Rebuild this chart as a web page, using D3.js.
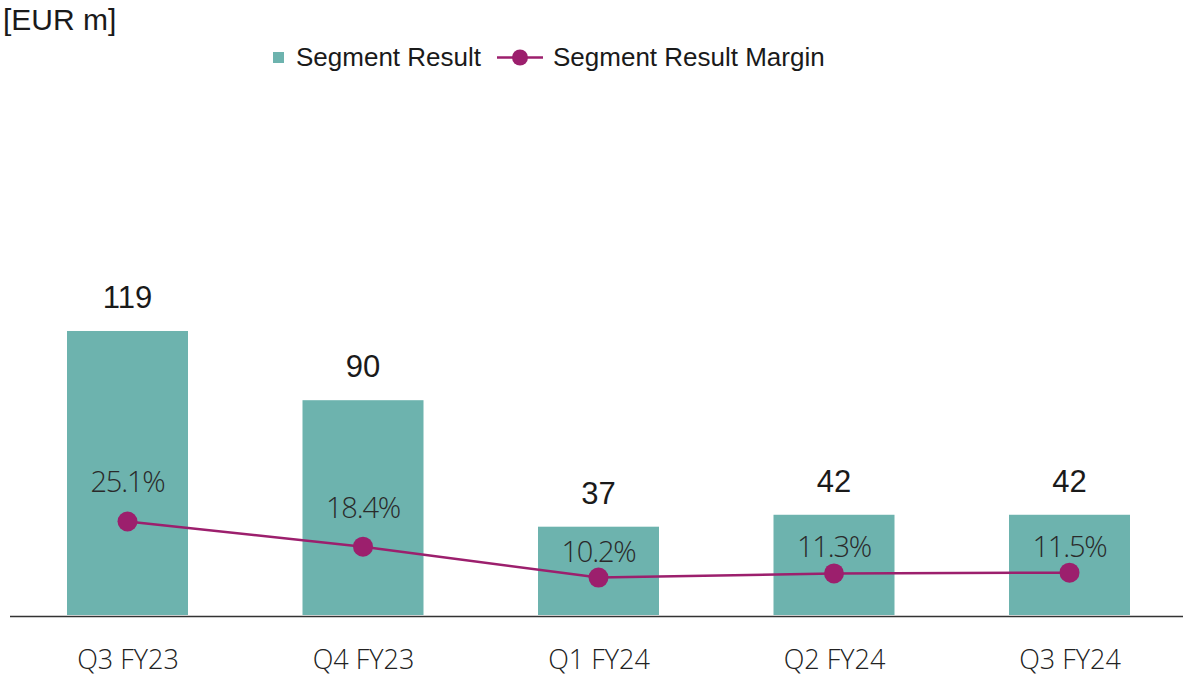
<!DOCTYPE html>
<html>
<head>
<meta charset="utf-8">
<script src="https://d3js.org/d3.v7.min.js"></script>
<style>
body { margin:0; background:#fff; }
</style>
</head>
<body>
<div id="chart"></div>
<script>
	// chart data
	var categories = ["Q3 FY23", "Q4 FY23", "Q1 FY24", "Q2 FY24", "Q3 FY24"];
	var segmentResult = [119, 90, 37, 42, 42];
	var segmentMargin = [25.1, 18.4, 10.2, 11.3, 11.5];
	var marginLabels = ["25.1%", "18.4%", "10.2%", "11.3%", "11.5%"];

	var width = 1183, height = 678;
	var barColor = "#6db3ae", lineColor = "#9c1f6d";

	var svg = d3.select("#chart").append("svg")
		.attr("width", width)
		.attr("height", height);

	var x = d3.scalePoint().domain(categories).range([127.5, 1069.5]);
	var barW = 121;
	// bars and line share the baseline
	var y = d3.scaleLinear().domain([0, 150]).range([615, 257]);
	var yPct = d3.scaleLinear().domain([0, 30]).range([616, 503]);

	var data = categories.map(function(c, i){
		return {cat:c, val:segmentResult[i], pct:segmentMargin[i], lbl:marginLabels[i]};
	});

	svg.append("g").selectAll("rect")
		.data(data)
		.enter().append("rect")
		.attr("x", function(d){ return x(d.cat) - barW/2; })
		.attr("y", function(d){ return y(d.val); })
		.attr("width", barW)
		.attr("height", function(d){ return y(0) - y(d.val); })
		.attr("fill", barColor);

	// axis line
	svg.append("line")
		.attr("x1", 10).attr("x2", width)
		.attr("y1", 616.5).attr("y2", 616.5)
		.attr("stroke", "#333").attr("stroke-width", 1.5);

	var xAxis = svg.append("g")
		.attr("transform", "translate(0,616)")
		.call(d3.axisBottom(x).tickSize(0).tickPadding(0));
	xAxis.select(".domain").remove();
	xAxis.selectAll("text")
		.attr("dy", null)
		.attr("y", 53)
		.style("font-family", "'Open Sans', sans-serif")
		.style("font-weight", 300)
		.style("font-size", "27px")
		.attr("fill", "#222");

	// value labels
	svg.append("g").selectAll("text")
		.data(data)
		.enter().append("text")
		.attr("x", function(d){ return x(d.cat); })
		.attr("y", function(d){ return y(d.val) - 23; })
		.attr("text-anchor", "middle")
		.style("font", "31px 'Liberation Sans', Arial, sans-serif")
		.attr("fill", "#1a1a1a")
		.text(function(d){ return d.val; });

	// margin line
	var line = d3.line()
		.x(function(d){ return x(d.cat); })
		.y(function(d){ return yPct(d.pct); });

	svg.append("path")
		.datum(data)
		.attr("d", line)
		.attr("fill", "none")
		.attr("stroke", lineColor)
		.attr("stroke-width", 2.5);

	svg.append("g").selectAll("circle")
		.data(data)
		.enter().append("circle")
		.attr("cx", function(d){ return x(d.cat); })
		.attr("cy", function(d){ return yPct(d.pct); })
		.attr("r", 10)
		.attr("fill", lineColor);

	svg.append("g").selectAll("text")
		.data(data)
		.enter().append("text")
		.attr("x", function(d){ return x(d.cat); })
		.attr("y", function(d){ return yPct(d.pct) - (d.pct > 15 ? 29 : 16); })
		.attr("text-anchor", "middle")
		.style("font-family", "'Open Sans', sans-serif")
		.style("font-weight", 300)
		.style("font-size", "29px")
		.style("letter-spacing", "-1.2px")
		.attr("fill", "#2a2a2a")
		.text(function(d){ return d.lbl; });

	// unit label
	svg.append("text")
		.attr("x", 3).attr("y", 30)
		.style("font", "30px 'Liberation Sans', Arial, sans-serif")
		.attr("fill", "#1a1a1a")
		.text("[EUR m]");

	// legend
	var lg = svg.append("g");
	lg.append("rect")
		.attr("x", 273).attr("y", 52).attr("width", 11).attr("height", 11)
		.attr("fill", barColor);
	lg.append("text")
		.attr("x", 296).attr("y", 66)
		.style("font", "26px 'Liberation Sans', Arial, sans-serif")
		.attr("fill", "#1a1a1a")
		.text("Segment Result");
	lg.append("line")
		.attr("x1", 497).attr("x2", 543).attr("y1", 57.5).attr("y2", 57.5)
		.attr("stroke", lineColor).attr("stroke-width", 2.5);
	lg.append("circle")
		.attr("cx", 520).attr("cy", 57.5).attr("r", 8)
		.attr("fill", lineColor);
	lg.append("text")
		.attr("x", 553).attr("y", 66)
		.style("font", "26px 'Liberation Sans', Arial, sans-serif")
		.attr("fill", "#1a1a1a")
		.text("Segment Result Margin");
</script>
</body>
</html>
